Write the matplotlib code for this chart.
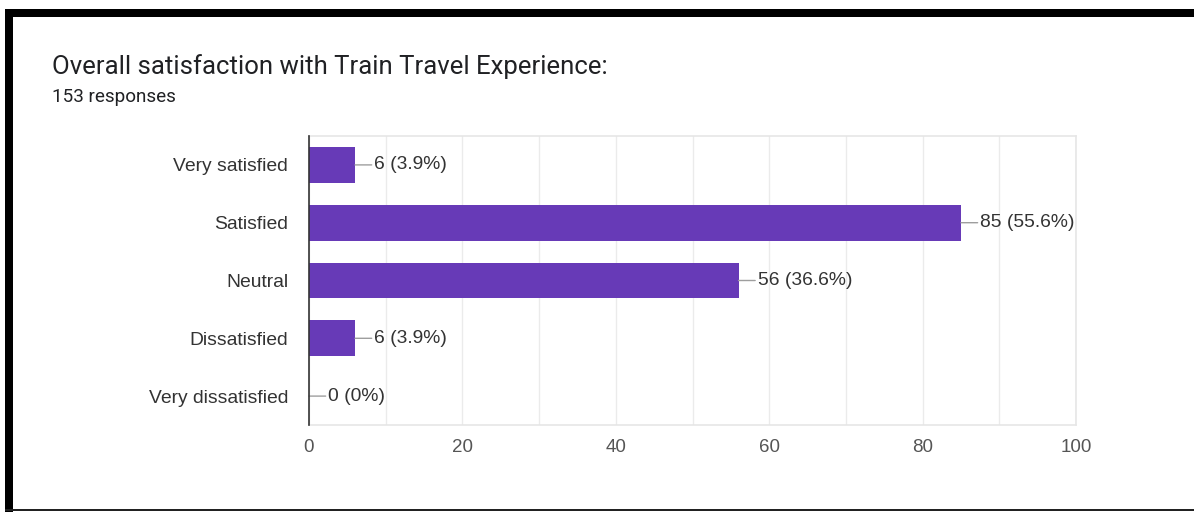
import matplotlib.pyplot as plt
from matplotlib.patches import Rectangle

# Survey data
categories = ['Very satisfied', 'Satisfied', 'Neutral', 'Dissatisfied', 'Very dissatisfied']
counts = [6, 85, 56, 6, 0]
percents = ['3.9%', '55.6%', '36.6%', '3.9%', '0%']
total = 153

W, H = 1194, 512
fig = plt.figure(figsize=(W / 100, H / 100), dpi=100)
fig.patch.set_facecolor('white')

# plot area in pixels: x 309..1076, y 136..425 (from top)
ax = fig.add_axes([309 / W, (H - 425) / H, (1076 - 309) / W, (425 - 136) / H])

chart_font = 'Liberation Sans'
ypos = list(range(len(categories)))
ax.barh(ypos, counts, height=0.62, color='#673ab7', zorder=3)

ax.set_xlim(0, 100)
ax.set_ylim(len(categories) - 0.5, -0.5)
ax.set_xticks([0, 20, 40, 60, 80, 100])
ax.set_xticks([10, 30, 50, 70, 90], minor=True)
ax.set_yticks(ypos)
ax.set_yticklabels(categories, fontfamily=chart_font, fontsize=13.9, color='#333333')
for lab in ax.get_xticklabels():
    lab.set_fontfamily(chart_font)
ax.tick_params(axis='x', which='both', length=0, pad=10, labelsize=13.5, labelcolor='#555555')
ax.tick_params(axis='y', length=0, pad=15)
ax.grid(True, axis='x', which='both', color='#ebebeb', lw=1, zorder=0)

for side in ['top', 'right', 'bottom']:
    ax.spines[side].set_color('#e6e6e6')
    ax.spines[side].set_linewidth(1.2)
ax.spines['left'].set_color('#333333')
ax.spines['left'].set_linewidth(1.2)
ax.spines['left'].set_zorder(4)

# value labels with short leader lines
for i, (c, p) in enumerate(zip(counts, percents)):
    ax.annotate(f'{c} ({p})', xy=(c, i), xytext=(14, 0), textcoords='offset points',
                va='center', ha='left', fontsize=13.9, color='#333333', fontfamily=chart_font,
                arrowprops=dict(arrowstyle='-', color='#9e9e9e', lw=1, shrinkA=0, shrinkB=0))

# titles
fig.text(52 / W, 1 - 67 / H, 'Overall satisfaction with Train Travel Experience:',
         fontfamily='Roboto', fontsize=18.5, color='#202124', va='center', ha='left')
fig.text(52 / W, 1 - 97 / H, f'{total} responses',
         fontfamily='Roboto', fontsize=13.6, color='#202124', va='center', ha='left')

# black screenshot frame
fig.patches.append(Rectangle((5 / W, 1 - 17 / H), 1 - 5 / W, 8 / H, transform=fig.transFigure,
                             facecolor='black', edgecolor='none'))
fig.patches.append(Rectangle((5 / W, 0), 8 / W, 1 - 9 / H, transform=fig.transFigure,
                             facecolor='black', edgecolor='none'))
fig.patches.append(Rectangle((5 / W, 1 / H), 1 - 5 / W, 2 / H, transform=fig.transFigure,
                             facecolor='#222222', edgecolor='none'))

fig.savefig('out.png', dpi=100)
plt.close(fig)
